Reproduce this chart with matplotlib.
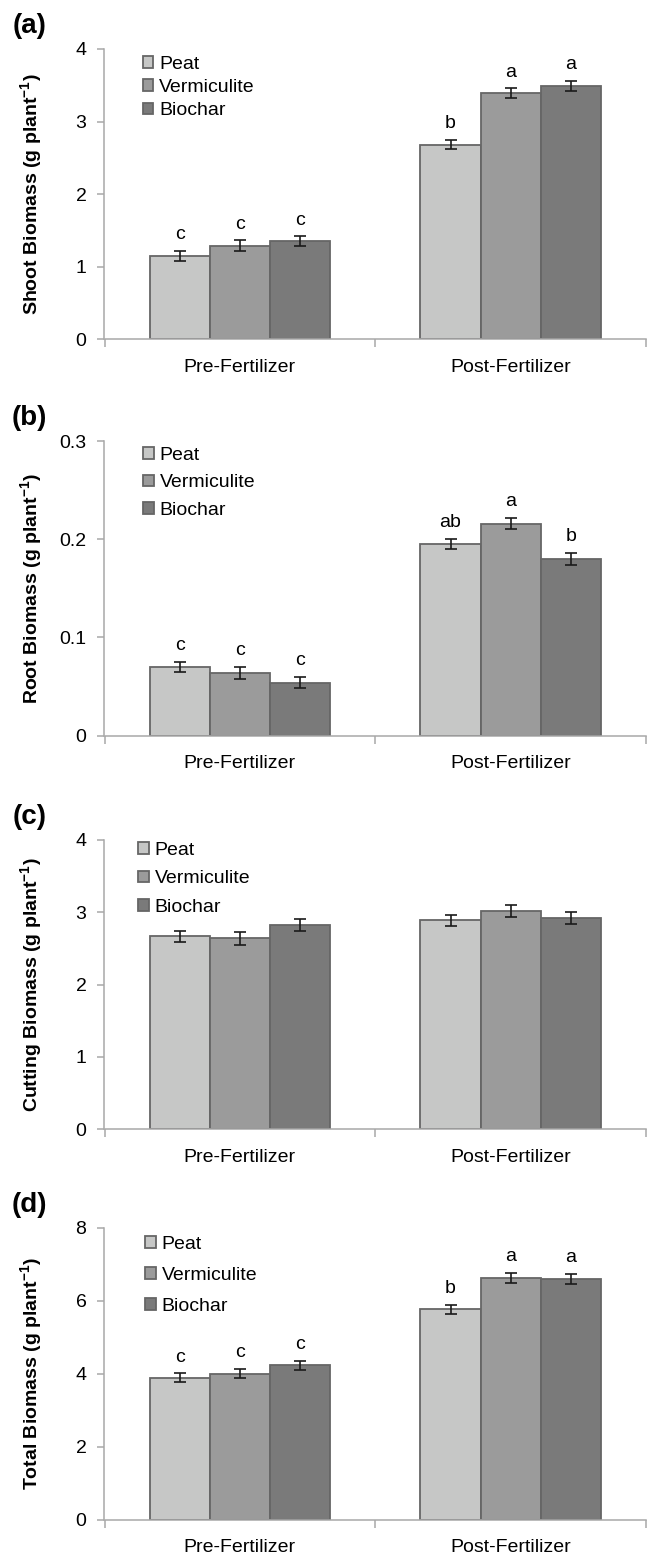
import matplotlib
matplotlib.use("Agg")
import matplotlib.pyplot as plt
import numpy as np

plt.rcParams['font.family'] = ['Liberation Sans', 'DejaVu Sans']
plt.rcParams['mathtext.fontset'] = 'custom'
plt.rcParams['mathtext.rm'] = 'Liberation Sans'
plt.rcParams['mathtext.bf'] = 'Liberation Sans:bold'

groups = ["Pre-Fertilizer", "Post-Fertilizer"]
media = ["Peat", "Vermiculite", "Biochar"]

# rows = groups (pre, post), cols = media (peat, vermiculite, biochar)
shoot_mean = [[1.15, 1.29, 1.35], [2.68, 3.39, 3.49]]
shoot_err = [[0.07, 0.073, 0.068], [0.062, 0.066, 0.071]]
shoot_letters = [["c", "c", "c"], ["b", "a", "a"]]

root_mean = [[0.070, 0.064, 0.054], [0.195, 0.216, 0.180]]
root_err = [[0.0053, 0.0058, 0.0059], [0.0053, 0.0059, 0.0059]]
root_letters = [["c", "c", "c"], ["ab", "a", "b"]]

cutting_mean = [[2.67, 2.64, 2.82], [2.89, 3.02, 2.92]]
cutting_err = [[0.076, 0.085, 0.083], [0.078, 0.083, 0.085]]
cutting_letters = None

total_mean = [[3.89, 4.00, 4.23], [5.76, 6.63, 6.60]]
total_err = [[0.12, 0.128, 0.128], [0.128, 0.137, 0.137]]
total_letters = [["c", "c", "c"], ["b", "a", "a"]]

colors = ["#c6c7c6", "#9b9b9b", "#7a7a7a"]
edge = "#666666"
spine_col = "#a8a8a8"

panels = [
    ("(a)", "Shoot", shoot_mean, shoot_err, shoot_letters, [0, 1, 2, 3, 4]),
    ("(b)", "Root", root_mean, root_err, root_letters, [0, 0.1, 0.2, 0.3]),
    ("(c)", "Cutting", cutting_mean, cutting_err, cutting_letters, [0, 1, 2, 3, 4]),
    ("(d)", "Total", total_mean, total_err, total_letters, [0, 2, 4, 6, 8]),
]

# axes boxes in pixel terms of the 649x1554 figure (top, bottom)
W, H = 649, 1554
boxes = [(49, 339.3), (441, 735.7), (840, 1129.3), (1227.7, 1519.7)]
leg_spacing = [0.32, 0.53, 0.58, 0.71]
leg_x = [142.5, 143, 138, 145]
leg_top = [56, 447, 842, 1236]

fig = plt.figure(figsize=(W / 100, H / 100), dpi=100)
bw = 0.222
x = np.arange(len(groups))

for k, (tag, name, mean, err, letters, yt) in enumerate(panels):
    top, bot = boxes[k]
    ax = fig.add_axes([104.5 / W, 1 - bot / H, 541.5 / W, (bot - top) / H])
    mean = np.array(mean)
    err = np.array(err)
    for j, m in enumerate(media):
        xs = x + (j - 1) * bw
        ax.bar(xs, mean[:, j], bw, color=colors[j], edgecolor=edge,
               linewidth=1.3, label=m, zorder=2)
        ax.errorbar(xs, mean[:, j], yerr=err[:, j], fmt="none", ecolor="#1a1a1a",
                    elinewidth=1.2, capsize=4, capthick=1.2, zorder=3)
        if letters is not None:
            for i in range(len(groups)):
                ax.annotate(letters[i][j], (xs[i], mean[i, j] + err[i, j]),
                            xytext=(0, 8.5), textcoords="offset points",
                            ha="center", va="baseline", fontsize=14)

    ax.set_xlim(-0.5, 1.5)
    ax.set_ylim(yt[0], yt[-1])
    ax.set_yticks(yt)
    ax.set_yticklabels([f"{v:g}" for v in yt])
    ax.set_xticks(x)
    ax.set_xticklabels(groups)
    ax.set_xticks([-0.5, 0.5, 1.5], minor=True)
    ax.tick_params(axis="x", which="major", length=0, pad=14, labelsize=14)
    ax.tick_params(axis="x", which="minor", length=6, width=1.1, color=spine_col,
                   direction="out")
    ax.tick_params(axis="y", length=5, width=1.1, color=spine_col, pad=8,
                   labelsize=14)
    for s in ["top", "right"]:
        ax.spines[s].set_visible(False)
    for s in ["left", "bottom"]:
        ax.spines[s].set_color(spine_col)
        ax.spines[s].set_linewidth(1.1)

    ax.set_ylabel(name + r" Biomass (g plant$^{\mathbf{-1}}$)", fontsize=14,
                  fontweight="bold")
    ax.yaxis.set_label_coords(-0.11, 0.5)

    ax.text(-0.139, 1 + 23 / (bot - top), tag, transform=ax.transAxes,
            ha="center", va="center", fontsize=20, fontweight="bold")

    h = bot - top
    ax.legend(loc="upper left",
              bbox_to_anchor=((leg_x[k] - 104.5) / 541.5, 1 - (leg_top[k] - top) / h),
              frameon=False, fontsize=14, borderpad=0, borderaxespad=0,
              handlelength=0.55, handleheight=0.55, handletextpad=0.3,
              labelspacing=leg_spacing[k])

fig.savefig("out.png", dpi=100)
